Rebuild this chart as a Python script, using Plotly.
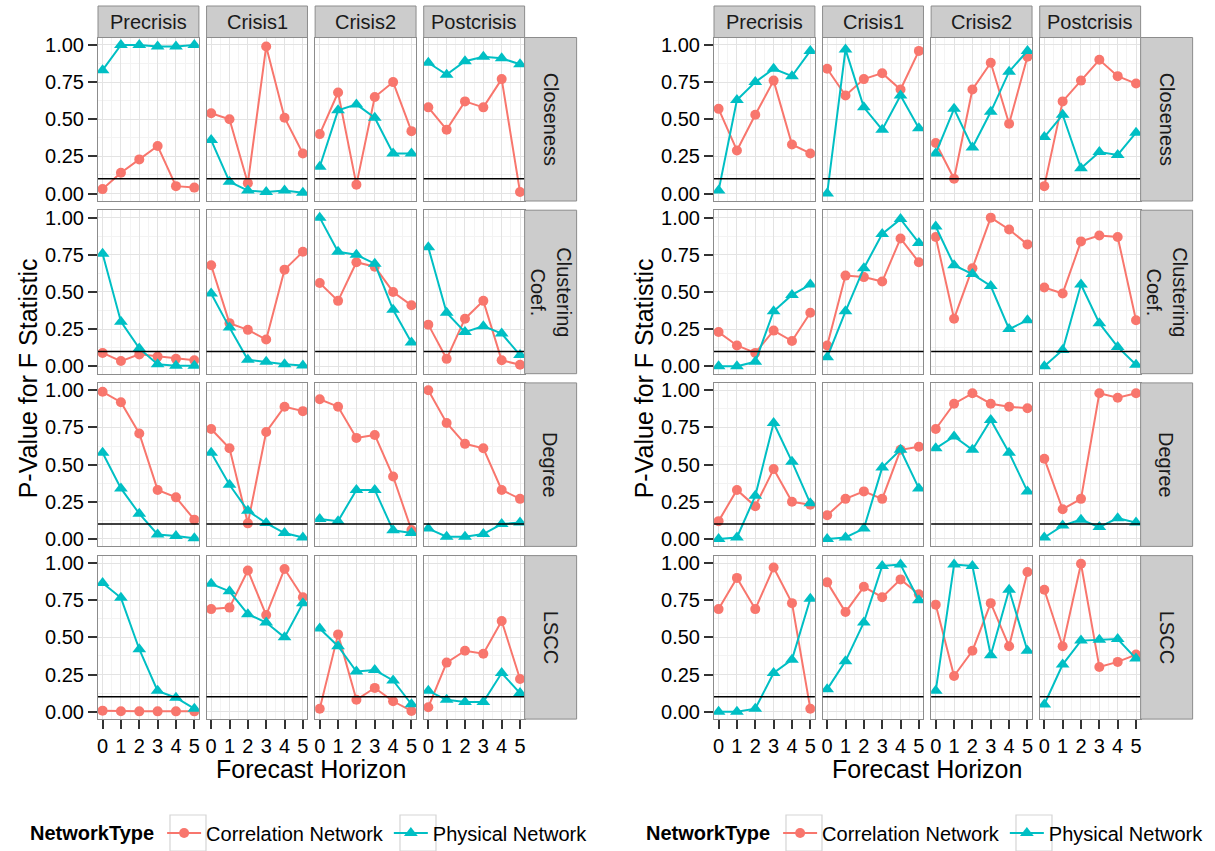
import plotly.graph_objects as go

# ---------------- data ----------------
horizon = [0, 1, 2, 3, 4, 5]
periods = ["Precrisis", "Crisis1", "Crisis2", "Postcrisis"]
measures = ["Closeness", "Clustering<br>Coef.", "Degree", "LSCC"]
series_names = ["Correlation Network", "Physical Network"]

# Left figure: rows = periods (Precrisis, Crisis1, Crisis2, Postcrisis)
left_corr_closeness = [[0.03, 0.14, 0.23, 0.32, 0.05, 0.04],
                       [0.54, 0.50, 0.07, 0.99, 0.51, 0.27],
                       [0.40, 0.68, 0.06, 0.65, 0.75, 0.42],
                       [0.58, 0.43, 0.62, 0.58, 0.77, 0.01]]
left_phys_closeness = [[0.83, 1.00, 1.00, 0.99, 0.99, 1.00],
                       [0.36, 0.08, 0.02, 0.01, 0.02, 0.005],
                       [0.18, 0.56, 0.60, 0.51, 0.27, 0.27],
                       [0.88, 0.80, 0.89, 0.92, 0.91, 0.87]]
left_corr_clustering = [[0.09, 0.035, 0.08, 0.065, 0.05, 0.04],
                        [0.68, 0.29, 0.245, 0.18, 0.65, 0.77],
                        [0.56, 0.44, 0.70, 0.67, 0.50, 0.41],
                        [0.28, 0.05, 0.32, 0.44, 0.04, 0.01]]
left_phys_clustering = [[0.757, 0.30, 0.12, 0.013, 0.004, 0.004],
                        [0.49, 0.26, 0.044, 0.03, 0.013, 0.005],
                        [1.00, 0.77, 0.75, 0.69, 0.38, 0.16],
                        [0.80, 0.36, 0.23, 0.27, 0.22, 0.075]]
left_corr_degree = [[0.99, 0.92, 0.71, 0.33, 0.28, 0.13],
                    [0.74, 0.61, 0.105, 0.72, 0.89, 0.86],
                    [0.94, 0.89, 0.68, 0.70, 0.42, 0.06],
                    [1.00, 0.78, 0.64, 0.61, 0.33, 0.27]]
left_phys_degree = [[0.58, 0.34, 0.17, 0.03, 0.02, 0.005],
                    [0.58, 0.365, 0.19, 0.107, 0.04, 0.01],
                    [0.135, 0.12, 0.33, 0.33, 0.058, 0.04],
                    [0.07, 0.015, 0.015, 0.033, 0.10, 0.11]]
left_corr_lscc = [[0.007, 0.003, 0.002, 0.002, 0.002, 0.002],
                  [0.69, 0.70, 0.95, 0.65, 0.96, 0.77],
                  [0.02, 0.52, 0.08, 0.16, 0.07, 0.005],
                  [0.03, 0.33, 0.41, 0.39, 0.61, 0.22]]
left_phys_lscc = [[0.866, 0.766, 0.42, 0.14, 0.094, 0.02],
                  [0.86, 0.81, 0.656, 0.60, 0.50, 0.73],
                  [0.56, 0.44, 0.27, 0.28, 0.21, 0.05],
                  [0.14, 0.08, 0.065, 0.065, 0.26, 0.125]]

# Right figure
right_corr_closeness = [[0.57, 0.29, 0.53, 0.76, 0.33, 0.27],
                        [0.84, 0.66, 0.77, 0.81, 0.70, 0.96],
                        [0.34, 0.10, 0.70, 0.88, 0.47, 0.92],
                        [0.05, 0.62, 0.76, 0.90, 0.79, 0.74]]
right_phys_closeness = [[0.02, 0.63, 0.75, 0.84, 0.79, 0.96],
                        [0.00, 0.97, 0.58, 0.43, 0.66, 0.44],
                        [0.27, 0.57, 0.31, 0.55, 0.82, 0.96],
                        [0.38, 0.53, 0.17, 0.28, 0.26, 0.41]]
right_corr_clustering = [[0.23, 0.14, 0.09, 0.24, 0.17, 0.36],
                         [0.14, 0.61, 0.60, 0.57, 0.86, 0.70],
                         [0.87, 0.32, 0.66, 1.00, 0.92, 0.82],
                         [0.53, 0.49, 0.84, 0.88, 0.87, 0.31]]
right_phys_clustering = [[0.00, 0.00, 0.03, 0.37, 0.48, 0.55],
                         [0.06, 0.37, 0.66, 0.89, 0.99, 0.83],
                         [0.94, 0.68, 0.62, 0.54, 0.25, 0.31],
                         [0.00, 0.11, 0.55, 0.29, 0.13, 0.01]]
right_corr_degree = [[0.12, 0.33, 0.22, 0.47, 0.25, 0.23],
                     [0.16, 0.27, 0.32, 0.27, 0.60, 0.62],
                     [0.74, 0.91, 0.98, 0.91, 0.89, 0.88],
                     [0.54, 0.20, 0.27, 0.98, 0.95, 0.98]]
right_phys_degree = [[0.00, 0.01, 0.29, 0.78, 0.52, 0.24],
                     [0.00, 0.01, 0.07, 0.48, 0.60, 0.34],
                     [0.61, 0.69, 0.60, 0.80, 0.58, 0.32],
                     [0.01, 0.09, 0.13, 0.08, 0.14, 0.11]]
right_corr_lscc = [[0.69, 0.90, 0.69, 0.97, 0.73, 0.02],
                   [0.87, 0.67, 0.84, 0.77, 0.89, 0.79],
                   [0.72, 0.24, 0.41, 0.73, 0.44, 0.94],
                   [0.82, 0.44, 0.995, 0.30, 0.335, 0.384]]
right_phys_lscc = [[0.00, 0.00, 0.02, 0.26, 0.35, 0.76],
                   [0.15, 0.34, 0.60, 0.98, 0.99, 0.75],
                   [0.14, 0.99, 0.98, 0.38, 0.82, 0.41],
                   [0.048, 0.317, 0.478, 0.484, 0.489, 0.357]]

threshold = 0.1

charts = [
    {"corr": [left_corr_closeness, left_corr_clustering, left_corr_degree, left_corr_lscc],
     "phys": [left_phys_closeness, left_phys_clustering, left_phys_degree, left_phys_lscc]},
    {"corr": [right_corr_closeness, right_corr_clustering, right_corr_degree, right_corr_lscc],
     "phys": [right_phys_closeness, right_phys_clustering, right_phys_degree, right_phys_lscc]},
]

# ---------------- layout geometry (pixels) ----------------
W, H = 1215, 851
FONT = "Liberation Sans, Arial, sans-serif"
COL_CORR = "#F8766D"
COL_PHYS = "#00BFC4"
chart_offset = [0.0, 616.0]
panel_left0 = 98.0
panel_step = 108.57
panel_w = 100.9
row_top0 = 37.5
row_step = 172.7
row_h = 163.5
strip_top = 6.0
strip_right_w = 52.0
legend_key_centers = [188.0, 418.0]


def fx(p):
    return p / W


def fy(p):
    return 1 - p / H


fig = go.Figure()
layout = {}
shapes = []
annotations = []

for c, chart in enumerate(charts):
    off = chart_offset[c]
    legend_name = "legend" if c == 0 else "legend2"
    for r in range(4):
        top = row_top0 + r * row_step
        bot = top + row_h
        for p in range(4):
            k = c * 16 + r * 4 + p + 1
            left = off + panel_left0 + p * panel_step
            right = left + panel_w
            xname = "xaxis" if k == 1 else f"xaxis{k}"
            yname = "yaxis" if k == 1 else f"yaxis{k}"
            xref = "x" if k == 1 else f"x{k}"
            yref = "y" if k == 1 else f"y{k}"
            bottom_row = r == 3
            first_col = p == 0
            layout[xname] = dict(
                domain=[fx(left), fx(right)], anchor=yref, range=[-0.25, 5.25],
                tickmode="linear", tick0=0, dtick=1,
                showticklabels=bottom_row, ticks="outside" if bottom_row else "",
                ticklen=9, tickwidth=1.5, tickcolor="#333333",
                tickfont=dict(size=20, color="black", family=FONT),
                showgrid=True, gridcolor="#E3E3E3", gridwidth=1,
                minor=dict(dtick=0.5, tick0=0, showgrid=True, gridcolor="#F3F3F3", gridwidth=1),
                zeroline=False, showline=True, mirror=True, linecolor="#8C8C8C", linewidth=1,
                fixedrange=True, automargin=False,
            )
            layout[yname] = dict(
                domain=[fy(bot), fy(top)], anchor=xref, range=[-0.05, 1.05],
                tickmode="linear", tick0=0, dtick=0.25, tickformat=".2f",
                showticklabels=first_col, ticks="outside" if first_col else "",
                ticklen=9, tickwidth=1.5, tickcolor="#333333",
                tickfont=dict(size=20, color="black", family=FONT),
                showgrid=True, gridcolor="#E3E3E3", gridwidth=1,
                minor=dict(dtick=0.125, tick0=0, showgrid=True, gridcolor="#F3F3F3", gridwidth=1),
                zeroline=False, showline=True, mirror=True, linecolor="#8C8C8C", linewidth=1,
                fixedrange=True, automargin=False,
            )
            # data traces
            for s, (key, col, sym, msize) in enumerate(
                    [("corr", COL_CORR, "circle", 10), ("phys", COL_PHYS, "triangle-up", 12)]):
                fig.add_trace(go.Scatter(
                    x=horizon, y=chart[key][r][p], mode="lines+markers",
                    xaxis=xref, yaxis=yref, name=series_names[s],
                    legendgroup=f"{c}-{s}", legend=legend_name,
                    showlegend=(r == 0 and p == 0),
                    line=dict(color=col, width=2),
                    marker=dict(symbol=sym, size=msize, color=col, line=dict(width=0)),
                    hoverinfo="skip",
                ))
            # threshold line
            shapes.append(dict(type="line", xref="paper", yref=yref,
                               x0=fx(left), x1=fx(right), y0=threshold, y1=threshold,
                               line=dict(color="black", width=1.5), layer="above"))
            # top strips
            if r == 0:
                shapes.append(dict(type="rect", xref="paper", yref="paper",
                                   x0=fx(left), x1=fx(right), y0=fy(top), y1=fy(strip_top),
                                   fillcolor="#CCCCCC", line=dict(color="#8C8C8C", width=1),
                                   layer="above"))
                annotations.append(dict(text=periods[p], xref="paper", yref="paper",
                                        x=fx((left + right) / 2), y=fy((top + strip_top) / 2),
                                        showarrow=False, xanchor="center", yanchor="middle",
                                        font=dict(size=20, color="#1A1A1A", family=FONT)))
            # right strips
            if p == 3:
                shapes.append(dict(type="rect", xref="paper", yref="paper",
                                   x0=fx(right), x1=fx(right + strip_right_w), y0=fy(bot), y1=fy(top),
                                   fillcolor="#CCCCCC", line=dict(color="#8C8C8C", width=1),
                                   layer="above"))
                annotations.append(dict(text=measures[r], xref="paper", yref="paper",
                                        x=fx(right + strip_right_w / 2), y=fy((top + bot) / 2),
                                        showarrow=False, xanchor="center", yanchor="middle",
                                        textangle=90,
                                        font=dict(size=20, color="#1A1A1A", family=FONT)))
    # axis titles
    left_edge = off + panel_left0
    right_edge = off + panel_left0 + 3 * panel_step + panel_w
    annotations.append(dict(text="P-Value for F Statistic", xref="paper", yref="paper",
                            x=fx(off + 28), y=fy(row_top0 + (3 * row_step + row_h) / 2),
                            showarrow=False, textangle=-90, xanchor="center", yanchor="middle",
                            font=dict(size=25, color="black", family=FONT)))
    annotations.append(dict(text="Forecast Horizon", xref="paper", yref="paper",
                            x=fx((left_edge + right_edge) / 2), y=fy(769),
                            showarrow=False, xanchor="center", yanchor="middle",
                            font=dict(size=25, color="black", family=FONT)))
    # legend key boxes (ggplot-style)
    for kc in legend_key_centers:
        shapes.append(dict(type="rect", xref="paper", yref="paper",
                           x0=fx(off + kc - 18), x1=fx(off + kc + 18), y0=fy(851), y1=fy(815),
                           fillcolor="rgba(0,0,0,0)", line=dict(color="#D5D5D5", width=1.2),
                           layer="below"))
    layout[legend_name] = dict(
        x=fx(off + 28), y=fy(833), xanchor="left", yanchor="middle",
        orientation="h", bgcolor="rgba(0,0,0,0)",
        title=dict(text="<b>NetworkType</b>", side="left", font=dict(size=20, family=FONT, color="black")),
        font=dict(size=20, family=FONT, color="black"),
        itemwidth=34, tracegroupgap=0,
    )

fig.update_layout(
    width=W, height=H, margin=dict(l=0, r=0, t=0, b=0, pad=0, autoexpand=False),
    paper_bgcolor="white", plot_bgcolor="white",
    shapes=shapes, annotations=annotations,
    font=dict(family=FONT),
    **layout,
)

fig.write_html(
    "out.html",
    config={"displayModeBar": False},
    post_script="document.body.style.margin='0px';document.body.style.overflow='hidden';",
)
